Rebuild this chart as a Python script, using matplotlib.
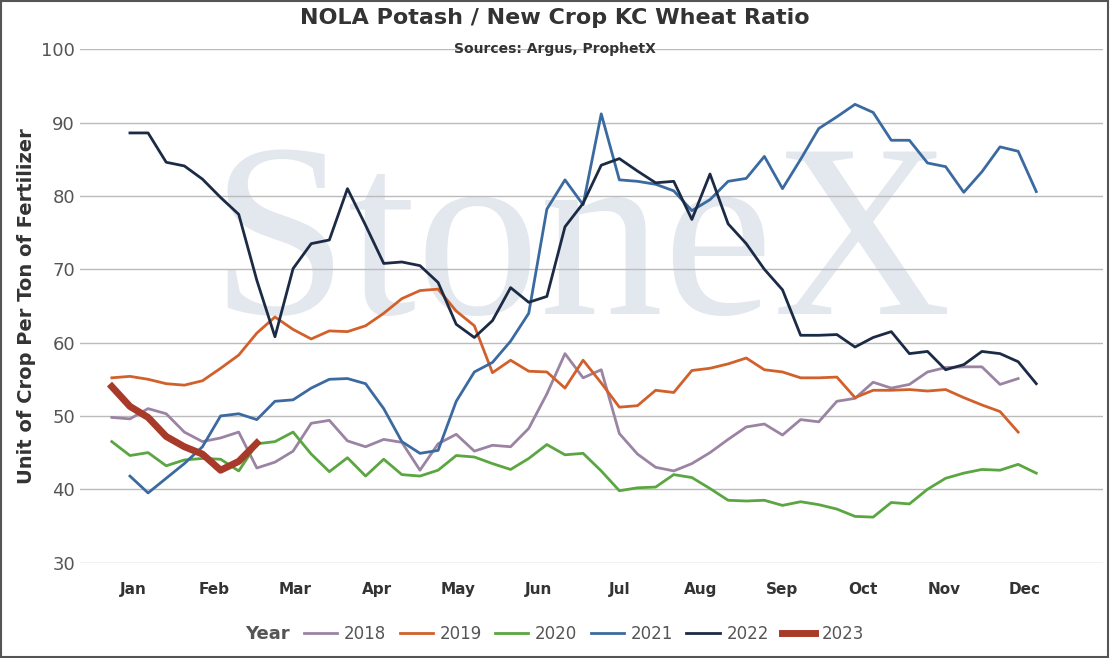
import matplotlib.pyplot as plt
import numpy as np
from matplotlib.offsetbox import HPacker

months = ['Jan', 'Feb', 'Mar', 'Apr', 'May', 'Jun', 'Jul', 'Aug', 'Sep', 'Oct', 'Nov', 'Dec']

y2018 = [49.8, 49.6, 51, 50.3, 47.8, 46.5, 47, 47.8, 42.9, 43.7, 45.2, 49, 49.4, 46.6, 45.8, 46.8, 46.4,
         42.6, 46.2, 47.5, 45.2, 46, 45.8, 48.3, 53, 58.5, 55.2, 56.3, 47.6, 44.8, 43, 42.5, 43.5, 45,
         46.8, 48.5, 48.9, 47.4, 49.5, 49.2, 52, 52.4, 54.6, 53.8, 54.3, 56, 56.6, 56.7, 56.7, 54.3, 55.1]
y2019 = [55.2, 55.4, 55, 54.4, 54.2, 54.8, 56.5, 58.3, 61.3, 63.5, 61.8, 60.5, 61.6, 61.5, 62.3, 64, 66,
         67.1, 67.3, 64.3, 62.3, 55.9, 57.6, 56.1, 56, 53.8, 57.6, 54.5, 51.2, 51.4, 53.5, 53.2, 56.2,
         56.5, 57.1, 57.9, 56.3, 56, 55.2, 55.2, 55.3, 52.5, 53.5, 53.5, 53.6, 53.4, 53.6, 52.5, 51.5,
         50.6, 47.8]
y2020 = [46.5, 44.6, 45, 43.2, 44, 44.2, 44.1, 42.5, 46.2, 46.5, 47.8, 44.8, 42.4, 44.3, 41.8, 44.1, 42,
         41.8, 42.6, 44.6, 44.4, 43.5, 42.7, 44.2, 46.1, 44.7, 44.9, 42.5, 39.8, 40.2, 40.3, 42, 41.6,
         40.1, 38.5, 38.4, 38.5, 37.8, 38.3, 37.9, 37.3, 36.3, 36.2, 38.2, 38, 40, 41.5, 42.2, 42.7,
         42.6, 43.4, 42.2]
y2021 = [41.8, 39.5, 41.5, 43.5, 45.8, 50, 50.3, 49.5, 52, 52.2, 53.8, 55, 55.1, 54.4, 51, 46.5, 44.9,
         45.3, 52, 56, 57.3, 60.2, 64, 78.2, 82.2, 78.8, 91.2, 82.2, 82, 81.6, 80.7, 78, 79.5, 82, 82.4,
         85.4, 81, 85, 89.2, 90.8, 92.5, 91.4, 87.6, 87.6, 84.5, 84, 80.5, 83.3, 86.7, 86.1, 80.6]
y2022 = [88.6, 88.6, 84.6, 84.1, 82.3, 79.8, 77.5, 68.5, 60.8, 70.1, 73.5, 74, 81, 76, 70.8, 71, 70.5,
         68.2, 62.5, 60.7, 63, 67.5, 65.5, 66.3, 75.8, 79, 84.2, 85.1, 83.4, 81.8, 82, 76.8, 83, 76.2,
         73.5, 70, 67.2, 61, 61, 61.1, 59.4, 60.7, 61.5, 58.5, 58.8, 56.3, 57, 58.8, 58.5, 57.4, 54.4]
y2023 = [54, 51.3, 49.8, 47.2, 45.8, 44.8, 42.6, 43.8, 46.3]

series = [('2018', y2018, 0, '#9b84a3', 2),
          ('2019', y2019, 0, '#d2602b', 2),
          ('2020', y2020, 0, '#5aa640', 2),
          ('2021', y2021, 1, '#3a6aa0', 2),
          ('2022', y2022, 1, '#1c2b45', 2),
          ('2023', y2023, 0, '#a83a2a', 5)]

fig = plt.figure(figsize=(11.1, 6.58), dpi=100)
ax = fig.add_axes([0.072, 0.145, 0.922, 0.78])

ax.text(0.49, 0.6, 'StoneX', transform=ax.transAxes, fontsize=178, family='Liberation Serif',
        color='#dde1ea', ha='center', va='center', zorder=0, alpha=0.8)

for name, ys, start, col, lw in series:
    xs = np.arange(start, start + len(ys))
    ax.plot(xs, ys, color=col, lw=lw, label=name, zorder=3)

month_pos = 1.2 + np.arange(12) * 4.47
ax.set_xticks(month_pos)
ax.set_xticklabels(months, fontweight='bold', fontsize=11, color='#333333')
ax.set_xlim(-1.76, 54.7)
ax.set_ylim(30, 100)
ax.set_yticks(range(30, 101, 10))
ax.tick_params(axis='y', labelsize=13, colors='#555555', length=0)
ax.tick_params(axis='x', length=0, pad=14)
ax.grid(axis='y', color='#bbbbbb', lw=1)
ax.set_axisbelow(True)
for s in ax.spines.values():
    s.set_visible(False)
ax.set_ylabel('Unit of Crop Per Ton of Fertilizer', fontsize=14, fontweight='bold', color='#333333')

fig.text(0.5, 0.972, 'NOLA Potash / New Crop KC Wheat Ratio', ha='center', va='center',
         fontsize=16, fontweight='bold', color='#333333')
fig.text(0.5, 0.925, 'Sources: Argus, ProphetX', ha='center', va='center',
         fontsize=10, fontweight='bold', color='#333333')

h, l = ax.get_legend_handles_labels()
leg = fig.legend(h, l, loc='center', bbox_to_anchor=(0.5, 0.036), ncol=6, frameon=False,
                 fontsize=12, title='Year', handlelength=2, columnspacing=0.8, handletextpad=0.4)
leg.get_title().set_fontweight('bold')
leg.get_title().set_fontsize(13)
leg.get_title().set_color('#555555')
for t in leg.get_texts():
    t.set_color('#555555')
# put legend title inline with the entries
box = leg._legend_box
box._children = [HPacker(children=[box._children[0], box._children[1]], align='center', pad=0, sep=10)]

fig.patches.append(plt.Rectangle((0.001, 0.002), 0.997, 0.996, transform=fig.transFigure,
                                 fill=False, ec='#555555', lw=1.5))
fig.savefig('out.png')
